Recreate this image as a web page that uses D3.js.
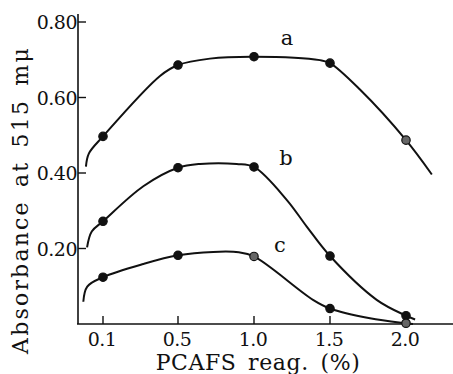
<!DOCTYPE html>
<html>
<head>
<meta charset="utf-8">
<script src="https://cdn.jsdelivr.net/npm/d3@7"></script>
<style>
  body { margin: 0; background: #fff; }
  svg { display: block; }
</style>
</head>
<body>
<div id="chart"></div>
<script>
// measured points (dots), reagent % vs absorbance
const concs = [0.1, 0.5, 1.0, 1.5, 2.0];
const absA = [0.497, 0.686, 0.708, 0.691, 0.487];
const absB = [0.272, 0.414, 0.416, 0.180, 0.022];
const absC = [0.124, 0.182, 0.179, 0.041, 0.002];
// dots drawn with a light centre in the print: [series, index]
const hollowDots = [['a', 4], ['c', 2], ['c', 4]];

// the hand-drawn curves
const curveA = [[0.009, 0.417], [0.025, 0.452], [0.1, 0.497], [0.404, 0.657], [0.5, 0.686], [0.71, 0.703],
                [1.0, 0.708], [1.434, 0.699], [1.5, 0.691], [1.697, 0.621], [2.0, 0.487], [2.17, 0.396]];
const curveB = [[0.015, 0.203], [0.04, 0.245], [0.1, 0.272], [0.315, 0.365], [0.5, 0.414], [0.645, 0.424],
                [0.886, 0.424], [1.0, 0.416], [1.215, 0.329], [1.347, 0.258], [1.5, 0.180], [1.807, 0.064],
                [2.0, 0.022], [2.06, 0.012]];
const curveC = [[-0.005, 0.059], [0.016, 0.099], [0.1, 0.124], [0.315, 0.159], [0.5, 0.182], [0.732, 0.191],
                [0.9, 0.190], [1.0, 0.179], [1.388, 0.064], [1.5, 0.041], [1.763, 0.015], [2.0, 0.002],
                [2.046, 0.0]];

const xTicks = [0.1, 0.5, 1.0, 1.5, 2.0];
const xTickLabels = ['0.1', '0.5', '1.0', '1.5', '2.0'];
const yTicks = [0.2, 0.4, 0.6, 0.8];
const yTickLabels = ['0.20', '0.40', '0.60', '0.80'];

const width = 453, height = 374;
const svg = d3.select('#chart').append('svg')
  .attr('width', width).attr('height', height)
  .attr('font-family', "'DejaVu Serif', 'Liberation Serif', serif")
  .attr('fill', '#111');

// the printed axis is not even between 0.1 and 0.5, so piecewise
const x = d3.scaleLinear().domain([0.1, 0.5, 2.0]).range([103, 178, 406]);
const y = d3.scaleLinear().domain([0, 0.8]).range([324, 22]);

const axisX0 = 78, axisY0 = 324;

// axes (plain lines, ticks point inward)
svg.append('line').attr('x1', axisX0).attr('x2', axisX0).attr('y1', 14).attr('y2', axisY0)
  .attr('stroke', '#111').attr('stroke-width', 1.6);
svg.append('line').attr('x1', axisX0 - 1).attr('x2', width).attr('y1', axisY0).attr('y2', axisY0)
  .attr('stroke', '#111').attr('stroke-width', 1.6);

svg.append('g').selectAll('line')
  .data(yTicks).enter().append('line')
  .attr('x1', axisX0).attr('x2', axisX0 + 8)
  .attr('y1', d => y(d)).attr('y2', d => y(d))
  .attr('stroke', '#111').attr('stroke-width', 1.4);

svg.append('g').selectAll('text')
  .data(yTicks).enter().append('text')
  .attr('x', axisX0 - 1).attr('y', d => y(d) + 7)
  .attr('text-anchor', 'end')
  .style('font-size', '19px')
  .style('letter-spacing', '-0.5px')
  .text((d, i) => yTickLabels[i]);

svg.append('g').selectAll('line')
  .data(xTicks).enter().append('line')
  .attr('x1', d => x(d)).attr('x2', d => x(d))
  .attr('y1', axisY0).attr('y2', axisY0 - 8)
  .attr('stroke', '#111').attr('stroke-width', 1.4);

svg.append('g').selectAll('text')
  .data(xTicks).enter().append('text')
  .attr('x', d => x(d) - 1).attr('y', 346)
  .attr('text-anchor', 'middle')
  .style('font-size', '19px')
  .style('letter-spacing', '-0.5px')
  .text((d, i) => xTickLabels[i]);

// axis titles
svg.append('text')
  .attr('x', 258).attr('y', 370)
  .attr('text-anchor', 'middle')
  .style('font-size', '22px')
  .style('letter-spacing', '0.6px')
  .style('word-spacing', '4px')
  .text('PCAFS reag. (%)');

svg.append('text')
  .attr('transform', 'translate(28,200) rotate(-90)')
  .attr('text-anchor', 'middle')
  .style('font-size', '22px')
  .style('letter-spacing', '2.2px')
  .style('word-spacing', '4px')
  .text('Absorbance at 515 mμ');

// curves
const line = d3.line()
  .x(d => x(d[0]))
  .y(d => y(d[1]))
  .curve(d3.curveCatmullRom.alpha(0.5));

const series = [
  {key: 'a', curve: curveA, vals: absA, lx: 287, ly: 45},
  {key: 'b', curve: curveB, vals: absB, lx: 286, ly: 165},
  {key: 'c', curve: curveC, vals: absC, lx: 280, ly: 252}
];

svg.append('g').selectAll('path')
  .data(series).enter().append('path')
  .attr('d', d => line(d.curve))
  .attr('fill', 'none')
  .attr('stroke', '#111')
  .attr('stroke-width', 2);

series.forEach(s => {
  svg.append('g').selectAll('circle')
    .data(s.vals).enter().append('circle')
    .attr('cx', (d, i) => x(concs[i]))
    .attr('cy', d => y(d))
    .attr('r', 4.2)
    .attr('fill', (d, i) => hollowDots.some(h => h[0] === s.key && h[1] === i) ? '#666' : '#111')
    .attr('stroke', '#111')
    .attr('stroke-width', 1.2);
});

svg.append('g').selectAll('text.lbl')
  .data(series).enter().append('text')
  .attr('class', 'lbl')
  .attr('x', d => d.lx).attr('y', d => d.ly)
  .attr('text-anchor', 'middle')
  .style('font-size', '21px')
  .text(d => d.key);
</script>
</body>
</html>
